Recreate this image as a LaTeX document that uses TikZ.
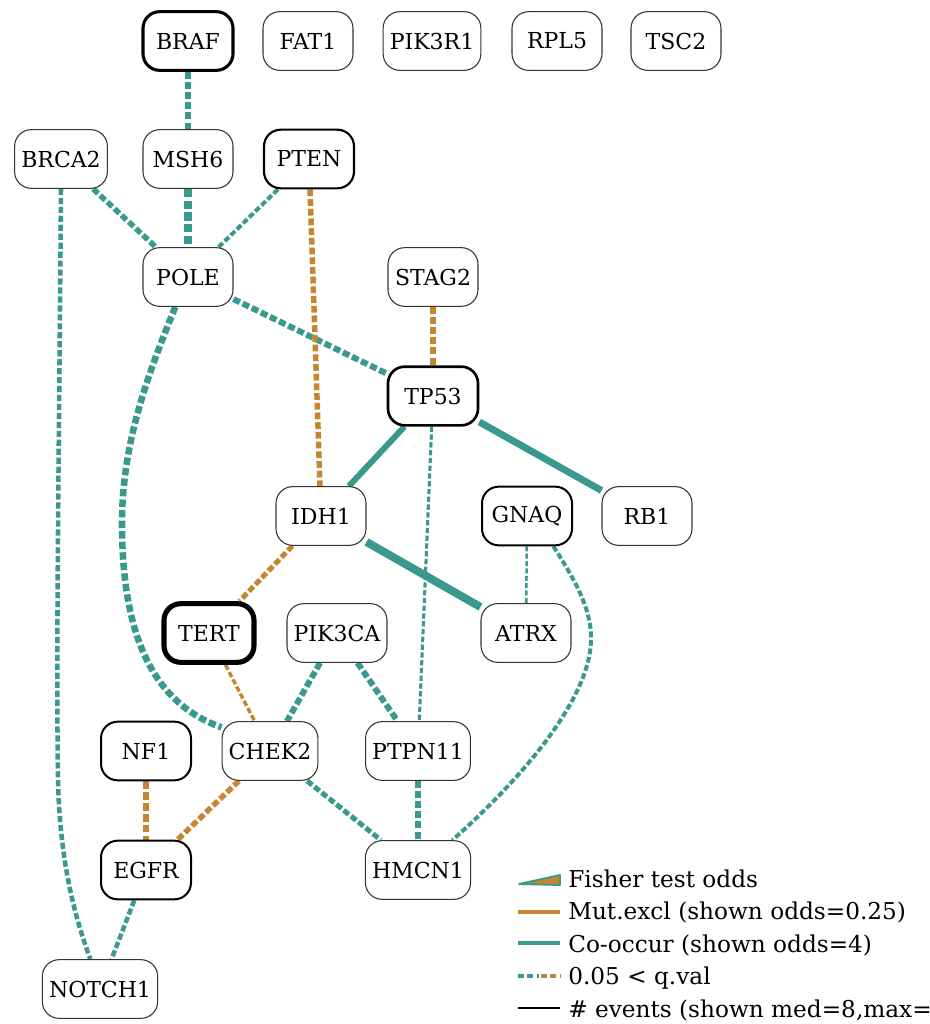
\documentclass[tikz,border=0pt]{standalone}
\usepackage{fontspec}
\setmainfont{DejaVu Serif}
\usepackage{xcolor}
\usetikzlibrary{backgrounds, calc}

\definecolor{coteal}{HTML}{3A998E}
\definecolor{mutorange}{HTML}{C7852F}
\definecolor{genegray}{HTML}{333333}

\tikzset{
    gene/.style={draw=genegray, line width=#1, fill=white, rounded corners=12.5pt,
        minimum width=67.5pt, minimum height=44pt, inner xsep=5pt,
        font=\fontsize{16.5}{19}\selectfont},
    gene/.default=0.8pt,
    strong/.style={draw=black},
    cooccur/.style={draw=coteal, line width=#1},
    mutexcl/.style={draw=mutorange, line width=#1},
    qdash/.style={dash pattern=on 0.6\pgflinewidth+2.6pt off 0.2\pgflinewidth+1.4pt},
    legtext/.style={anchor=base west, inner sep=0pt, font=\fontsize{17.4}{20}\selectfont}
}

\begin{document}
\begin{tikzpicture}[x=0.75pt, y=-0.75pt]
    \useasboundingbox (0,0) rectangle (929,1024);

    % genes, top row has no partners
    \node[gene=2.3pt, strong] (BRAF) at (188,41) {BRAF};
    \node[gene] (FAT1) at (308,41) {FAT1};
    \node[gene] (PIK3R1) at (432,41) {PIK3R1};
    \node[gene] (RPL5) at (557,41) {RPL5};
    \node[gene] (TSC2) at (676,41) {TSC2};

    \node[gene] (BRCA2) at (61,159) {BRCA2};
    \node[gene] (MSH6) at (188,159) {MSH6};
    \node[gene=1.6pt, strong] (PTEN) at (309,159) {PTEN};

    \node[gene] (POLE) at (188,277) {POLE};
    \node[gene] (STAG2) at (433,277) {STAG2};
    \node[gene=2pt, strong] (TP53) at (433,396) {TP53};

    \node[gene] (IDH1) at (321,516) {IDH1};
    \node[gene=1.5pt, strong] (GNAQ) at (527,516) {GNAQ};
    \node[gene] (RB1) at (647,516) {RB1};

    \node[gene=3.8pt, strong] (TERT) at (209,633) {TERT};
    \node[gene] (PIK3CA) at (337,633) {PIK3CA};
    \node[gene] (ATRX) at (526,633) {ATRX};

    \node[gene=1.5pt, strong] (NF1) at (146,751) {NF1};
    \node[gene] (CHEK2) at (270,751) {CHEK2};
    \node[gene] (PTPN11) at (418,751) {PTPN11};

    \node[gene=1.5pt, strong] (EGFR) at (146,870) {EGFR};
    \node[gene] (HMCN1) at (418,870) {HMCN1};
    \node[gene] (NOTCH1) at (100,989) {NOTCH1};

    \begin{scope}[on background layer]
        \fill[white] (0,0) rectangle (929,1024);

        % co-occurrence
        \draw[cooccur=4.5pt, qdash] (BRAF) -- (MSH6);
        \draw[cooccur=6pt, qdash] (MSH6) -- (POLE);
        \draw[cooccur=4.1pt, qdash] (BRCA2) -- (POLE);
        \draw[cooccur=3pt, qdash] (PTEN) -- (POLE);
        \draw[cooccur=4.5pt, qdash] (POLE) -- (TP53);
        \draw[cooccur=4.5pt] (TP53) -- (IDH1);
        \draw[cooccur=5.2pt] (TP53) -- (RB1);
        \draw[cooccur=2.3pt, qdash] (TP53) -- (PTPN11);
        \draw[cooccur=6pt] (IDH1) -- (ATRX);
        \draw[cooccur=1.9pt, qdash] (GNAQ) -- (ATRX);
        \draw[cooccur=4.5pt, qdash] (PIK3CA) -- (CHEK2);
        \draw[cooccur=4.5pt, qdash] (PIK3CA) -- (PTPN11);
        \draw[cooccur=3.8pt, qdash] (CHEK2) -- (HMCN1);
        \draw[cooccur=4.5pt, qdash] (PTPN11) -- (HMCN1);
        \draw[cooccur=3.4pt, qdash] (EGFR) -- (NOTCH1);

        \draw[cooccur=3.4pt, qdash] (BRCA2.south) .. controls (59,450) and (56,650) .. (58,780)
            .. controls (60,870) and (78,925) .. (NOTCH1.108);
        \draw[cooccur=4.9pt, qdash] (POLE.247) .. controls +(-25,62) and +(0,-83) .. (122,523)
            .. controls +(0,97) and +(-77,-27) .. (CHEK2.154);
        \draw[cooccur=3pt, qdash] (GNAQ.311) .. controls (575,580) and (592,610) .. (591,640)
            .. controls (590,700) and (520,780) .. (HMCN1.41);

        % mutual exclusivity
        \draw[mutexcl=4.1pt, qdash] (PTEN) -- (IDH1);
        \draw[mutexcl=4.5pt, qdash] (STAG2) -- (TP53);
        \draw[mutexcl=3.8pt, qdash] (IDH1) -- (TERT);
        \draw[mutexcl=2.6pt, qdash] (TERT) -- (CHEK2);
        \draw[mutexcl=5.2pt, qdash] (NF1) -- (EGFR);
        \draw[mutexcl=4.1pt, qdash] (CHEK2) -- (EGFR);
    \end{scope}

    % legend
    \filldraw[fill=mutorange, draw=coteal, line width=1.4pt, line join=round]
        (519,884) -- (560,875) -- (560,885) -- cycle;
    \node[legtext] (legodds) at (568,887) {Fisher test odds};
    \draw[mutexcl=3pt] (518,912) -- (560,912);
    \node[legtext] (legmut) at (568,919.5) {Mut.excl (shown odds=0.25)};
    \draw[cooccur=3pt] (518,943) -- (560,943);
    \node[legtext] (legco) at (568,952) {Co-occur (shown odds=4)};
    \draw[cooccur=2.6pt, dash pattern=on 4.5pt off 2.5pt] (518,976) -- (539,976);
    \draw[mutexcl=2.6pt, dash pattern=on 4.5pt off 2.5pt] (541,976) -- (560,976);
    \node[legtext] (legq) at (568,984.5) {0.05 < q.val};
    \draw[black, line width=0.8pt] (518,1008) -- (560,1008);
    \node[legtext] (legev) at (568,1017) {\# events (shown med=8,max=};
\end{tikzpicture}
\end{document}
